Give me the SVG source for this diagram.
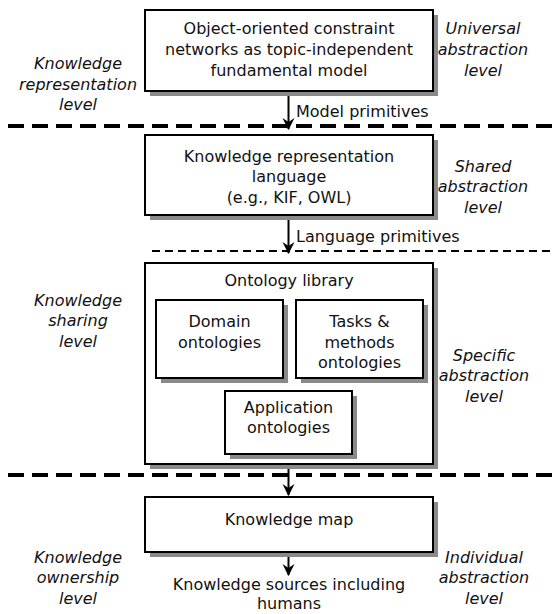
<svg xmlns="http://www.w3.org/2000/svg" width="555" height="614" viewBox="0 0 555 614">
  <style>
    .box { fill: #ffffff; stroke: #000000; stroke-width: 2; }
    .shadow { fill: #8a8a8a; stroke: none; }
    .t { font-family: "DejaVu Sans", "Liberation Sans", sans-serif; font-size: 16px; fill: #111111; text-anchor: middle; }
    .tl { font-family: "DejaVu Sans", "Liberation Sans", sans-serif; font-size: 16px; fill: #111111; text-anchor: start; }
    .lvl { font-family: "DejaVu Sans", "Liberation Sans", sans-serif; font-size: 16px; font-style: italic; fill: #111111; text-anchor: middle; }
    .thick { stroke: #000000; stroke-width: 4; stroke-dasharray: 16 8; fill: none; }
    .thin { stroke: #000000; stroke-width: 1.8; stroke-dasharray: 8 5; fill: none; }
    .arrow { stroke: #000000; stroke-width: 2; fill: none; marker-end: url(#head); }
  </style>
  <defs>
    <marker id="head" viewBox="0 0 12 14" refX="11" refY="7" markerWidth="12" markerHeight="14" markerUnits="userSpaceOnUse" orient="auto">
      <path d="M0,1 L12,7 L0,13 L4,7 Z" fill="#000000"/>
    </marker>
  </defs>

  <rect width="555" height="614" fill="#ffffff"/>

  <!-- level separators -->
  <g id="separators">
    <line class="thick" x1="8" y1="126" x2="555" y2="126"/>
    <line class="thin" x1="152" y1="251" x2="555" y2="251"/>
    <line class="thick" x1="8" y1="475" x2="555" y2="475"/>
  </g>

  <!-- level labels -->
  <g id="level-labels">
    <text class="lvl" x="78" y="69">Knowledge</text>
    <text class="lvl" x="78" y="90">representation</text>
    <text class="lvl" x="78" y="110">level</text>

    <text class="lvl" x="483" y="34">Universal</text>
    <text class="lvl" x="483" y="55">abstraction</text>
    <text class="lvl" x="483" y="76">level</text>

    <text class="lvl" x="483" y="172">Shared</text>
    <text class="lvl" x="483" y="192">abstraction</text>
    <text class="lvl" x="483" y="213">level</text>

    <text class="lvl" x="78" y="306">Knowledge</text>
    <text class="lvl" x="78" y="326">sharing</text>
    <text class="lvl" x="78" y="347">level</text>

    <text class="lvl" x="484" y="361">Specific</text>
    <text class="lvl" x="484" y="381">abstraction</text>
    <text class="lvl" x="484" y="402">level</text>

    <text class="lvl" x="78" y="563">Knowledge</text>
    <text class="lvl" x="78" y="583">ownership</text>
    <text class="lvl" x="78" y="604">level</text>

    <text class="lvl" x="484" y="563">Individual</text>
    <text class="lvl" x="484" y="583">abstraction</text>
    <text class="lvl" x="484" y="604">level</text>
  </g>

  <!-- connectors -->
  <g id="connectors">
    <line class="arrow" x1="288.5" y1="91" x2="288.5" y2="129"/>
    <line class="arrow" x1="288.5" y1="216" x2="288.5" y2="253"/>
    <line class="arrow" x1="288.5" y1="464" x2="288.5" y2="495"/>
    <line class="arrow" x1="288.5" y1="552" x2="288.5" y2="575"/>
    <text class="tl" x="296" y="117">Model primitives</text>
    <text class="tl" x="296" y="242">Language primitives</text>
  </g>

  <g id="fundamental-model">
    <rect class="shadow" x="150" y="15" width="288" height="81"/>
    <rect class="box" x="145" y="10" width="288" height="81"/>
    <text class="t" x="289" y="34">Object-oriented constraint</text>
    <text class="t" x="289" y="55">networks as topic-independent</text>
    <text class="t" x="289" y="76">fundamental model</text>
  </g>

  <g id="representation-language">
    <rect class="shadow" x="150" y="140" width="288" height="80"/>
    <rect class="box" x="145" y="135" width="288" height="80"/>
    <text class="t" x="289" y="162">Knowledge representation</text>
    <text class="t" x="289" y="182">language</text>
    <text class="t" x="289" y="203">(e.g., KIF, OWL)</text>
  </g>

  <g id="ontology-library">
    <rect class="shadow" x="150" y="268" width="288" height="201"/>
    <rect class="box" x="145" y="263" width="288" height="201"/>
    <text class="t" x="289" y="286">Ontology library</text>
  </g>

  <g id="domain-ontologies">
    <rect class="shadow" x="161" y="305" width="127" height="78"/>
    <rect class="box" x="156" y="300" width="127" height="78"/>
    <text class="t" x="219.5" y="327">Domain</text>
    <text class="t" x="219.5" y="348">ontologies</text>
  </g>

  <g id="tasks-methods-ontologies">
    <rect class="shadow" x="301" y="305" width="127" height="78"/>
    <rect class="box" x="296" y="300" width="127" height="78"/>
    <text class="t" x="359.5" y="327">Tasks &amp;</text>
    <text class="t" x="359.5" y="348">methods</text>
    <text class="t" x="359.5" y="368">ontologies</text>
  </g>

  <g id="application-ontologies">
    <rect class="shadow" x="230" y="396" width="127" height="63"/>
    <rect class="box" x="225" y="391" width="127" height="63"/>
    <text class="t" x="288.5" y="413">Application</text>
    <text class="t" x="288.5" y="433">ontologies</text>
  </g>

  <g id="knowledge-map">
    <rect class="shadow" x="150" y="502" width="288" height="55"/>
    <rect class="box" x="145" y="497" width="288" height="55"/>
    <text class="t" x="289" y="525">Knowledge map</text>
  </g>

  <g id="knowledge-sources">
    <text class="t" x="289" y="590">Knowledge sources including</text>
    <text class="t" x="289" y="609">humans</text>
  </g>
</svg>
